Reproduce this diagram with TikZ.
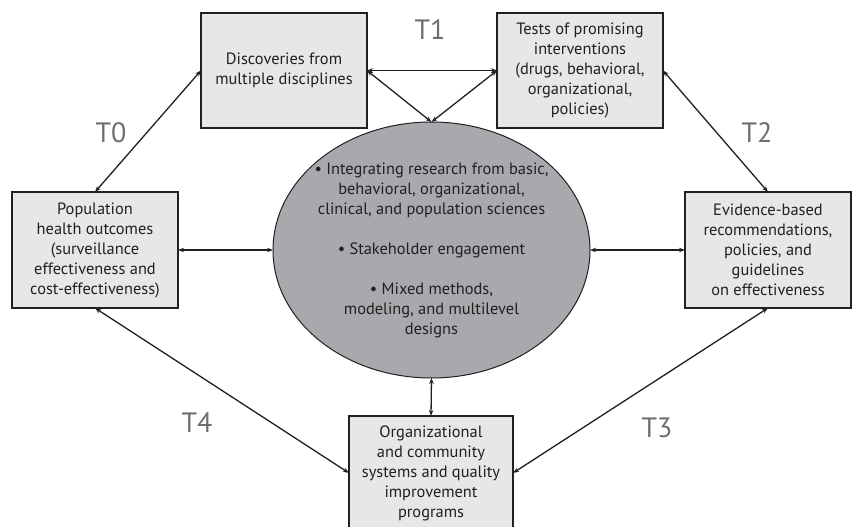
\documentclass[tikz,border=0pt]{standalone}
\usepackage{fontspec}
\setmainfont{PT Sans}
\usetikzlibrary{arrows.meta,shapes.geometric}
\definecolor{boxfill}{HTML}{E6E7E8}
\definecolor{ellfill}{HTML}{A7A9AC}
\definecolor{edge}{HTML}{231F20}
\definecolor{txt}{HTML}{231F20}
\definecolor{tlab}{HTML}{6D6E71}
\tikzset{
  stagebox/.style={draw=edge, fill=boxfill, line width=1.6pt, rectangle, inner sep=0pt, outer sep=0pt,
    align=center, text=txt, font=\fontsize{16.4}{20}\selectfont},
  hub/.style={draw=edge, fill=ellfill, line width=1pt, ellipse, inner sep=0pt, outer sep=0pt},
  hubtext/.style={align=center, text=txt, inner sep=0pt, font=\fontsize{16.4}{20}\selectfont},
  link/.style={draw=edge, line width=1.3pt, {Stealth[length=6pt,width=4.5pt]}-{Stealth[length=6pt,width=4.5pt]}},
  tlabel/.style={text=tlab, font=\fontsize{28}{30}\selectfont, inner sep=0pt}
}
\begin{document}
\begin{tikzpicture}[x=1pt,y=-1pt]
\useasboundingbox (0,0) rectangle (852,527);
\clip (0,0) rectangle (852,527);
\node[stagebox, minimum width=166pt, minimum height=115pt] (A) at (284,70.5) {Discoveries from\\multiple disciplines};
\node[stagebox, minimum width=166pt, minimum height=115pt] (B) at (580,70.5) {Tests of promising\\interventions\\(drugs, behavioral,\\organizational,\\policies)};
\node[stagebox, minimum width=166pt, minimum height=116pt] (C) at (95,250) {Population\\health outcomes\\(surveillance\\effectiveness and\\cost-effectiveness)};
\node[stagebox, minimum width=166pt, minimum height=116pt] (D) at (768,250) {Evidence-based\\recommendations,\\policies, and\\guidelines\\on effectiveness};
\node[stagebox, minimum width=164pt, minimum height=114pt] (E) at (431,473) {Organizational\\and community\\systems and quality\\improvement\\programs};
\node[hub, minimum width=317pt, minimum height=256pt] (H) at (431.5,250) {};
\node[hubtext] (HT) at (431.5,250) {{\textbullet} Integrating research from basic,\\behavioral, organizational,\\clinical, and population sciences\\[20pt]{\textbullet} Stakeholder engagement\\[20pt]{\textbullet} Mixed methods,\\modeling, and multilevel\\designs};
\node[tlabel] (T0) at (111,133) {T0};
\node[tlabel] (T1) at (430,30) {T1};
\node[tlabel] (T2) at (757,133) {T2};
\node[tlabel] (T3) at (657,428) {T3};
\node[tlabel] (T4) at (197,423) {T4};
\draw[link] (C.north) -- (A.west);
\draw[link] (A.east) -- (B.west);
\draw[link] (A.east) -- (H.north);
\draw[link] (B.west) -- (H.north);
\draw[link] (B.east) -- (D.north);
\draw[link] (C.east) -- (H.west);
\draw[link] (H.east) -- (D.west);
\draw[link] (H.south) -- (E.north);
\draw[link] (C.south) -- (E.west);
\draw[link] (D.south) -- (E.east);
\end{tikzpicture}
\end{document}
